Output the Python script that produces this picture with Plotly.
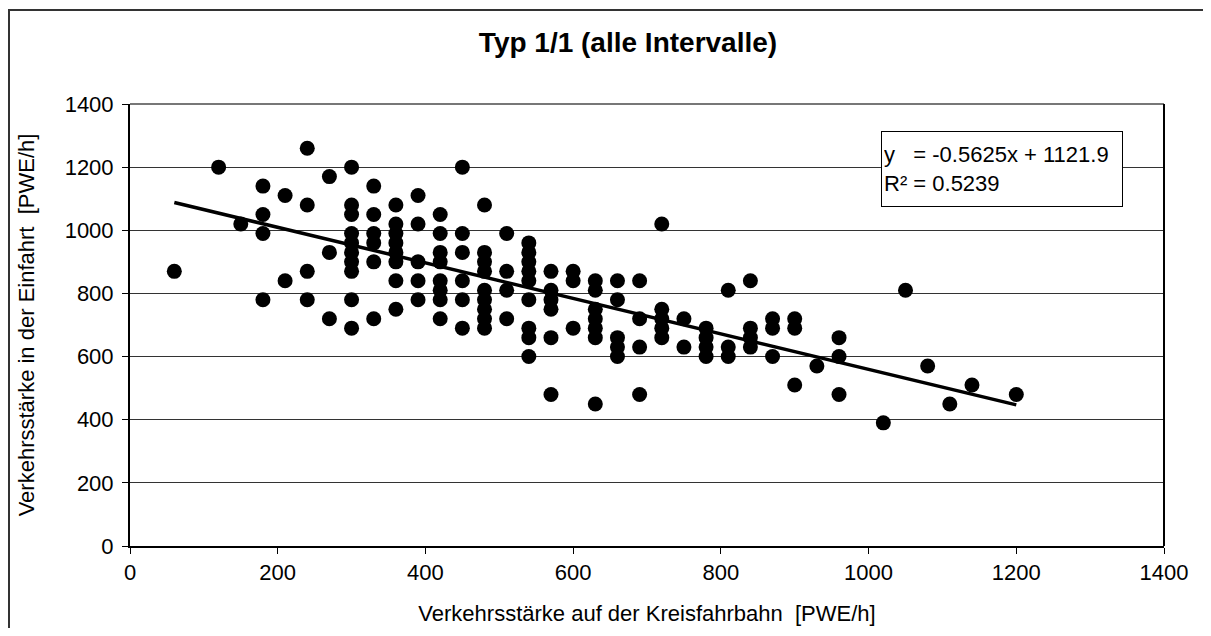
import plotly.graph_objects as go
import numpy as np

# Verkehrsstärke auf der Kreisfahrbahn [PWE/h]
x_kreis = [60, 120, 150,
           180, 180, 180, 180,
           210, 210,
           240, 240, 240, 240,
           270, 270, 270,
           300, 300, 300, 300, 300, 300, 300, 300, 300, 300,
           330, 330, 330, 330, 330, 330,
           360, 360, 360, 360, 360, 360, 360, 360,
           390, 390, 390, 390, 390,
           420, 420, 420, 420, 420, 420, 420, 420,
           450, 450, 450, 450, 450, 450,
           480, 480, 480, 480, 480, 480, 480, 480, 480,
           510, 510, 510, 510,
           540, 540, 540, 540, 540, 540, 540, 540, 540,
           570, 570, 570, 570, 570, 570,
           600, 600, 600,
           630, 630, 630, 630, 630, 630, 630,
           660, 660, 660, 660, 660,
           690, 690, 690, 690,
           720, 720, 720, 720, 720,
           750, 750,
           780, 780, 780, 780,
           810, 810, 810,
           840, 840, 840, 840,
           870, 870, 870,
           900, 900, 900,
           930,
           960, 960, 960,
           1020, 1050, 1080, 1110, 1140, 1200]

# Verkehrsstärke in der Einfahrt [PWE/h]
y_einfahrt = [870, 1200, 1020,
              1140, 1050, 990, 780,
              1110, 840,
              1260, 1080, 870, 780,
              1170, 930, 720,
              1200, 1080, 1050, 990, 960, 930, 900, 870, 780, 690,
              1140, 1050, 990, 960, 900, 720,
              1080, 1020, 990, 960, 930, 900, 840, 750,
              1110, 1020, 900, 840, 780,
              1050, 990, 930, 900, 840, 810, 780, 720,
              1200, 990, 930, 840, 780, 690,
              1080, 930, 900, 870, 810, 780, 750, 720, 690,
              990, 870, 810, 720,
              960, 930, 900, 870, 840, 780, 690, 660, 600,
              870, 810, 780, 750, 660, 480,
              870, 840, 690,
              840, 810, 750, 720, 690, 660, 450,
              840, 780, 660, 630, 600,
              840, 720, 630, 480,
              1020, 750, 720, 690, 660,
              720, 630,
              690, 660, 630, 600,
              810, 630, 600,
              840, 690, 660, 630,
              720, 690, 600,
              720, 690, 510,
              570,
              660, 600, 480,
              390, 810, 570, 450, 510, 480]

# lineare Trendlinie (Excel)
slope = -0.5625
intercept = 1121.9
r2 = 0.5239

x_trend = np.array([min(x_kreis), max(x_kreis)])
y_trend = slope * x_trend + intercept

font = "Liberation Sans, Arial, sans-serif"

# Seite hat 8px Rand -> Figur etwas kleiner
W, H = 1195, 620
L, T = 122, 96
PW, PH = 1034, 442

fig = go.Figure()
fig.add_trace(go.Scatter(x=x_kreis, y=y_einfahrt, mode="markers",
                         marker=dict(size=15, color="black"), showlegend=False))
fig.add_trace(go.Scatter(x=x_trend, y=y_trend, mode="lines",
                         line=dict(color="black", width=3.5), showlegend=False))

fig.update_layout(
    width=W, height=H,
    margin=dict(l=L, r=W - L - PW, t=T, b=H - T - PH),
    paper_bgcolor="white", plot_bgcolor="white",
    font=dict(family=font, color="black", size=22),
    title=dict(text="<b>Typ 1/1 (alle Intervalle)</b>", x=620 / W, xref="container",
               y=1 - 34 / H, yref="container", xanchor="center", yanchor="middle",
               font=dict(size=28)),
    xaxis=dict(range=[0, 1400], dtick=200, showgrid=False, zeroline=False,
               showline=True, linecolor="black", linewidth=2, mirror=False,
               ticks="outside", ticklen=6, tickcolor="black", automargin=False,
               tickfont=dict(size=22),
               title=dict(text="Verkehrsstärke auf der Kreisfahrbahn  [PWE/h]",
                          font=dict(size=22), standoff=21)),
    yaxis=dict(range=[0, 1400], dtick=200, showgrid=True, gridcolor="#333333", gridwidth=1,
               zeroline=False, showline=True, linecolor="black", linewidth=2,
               ticks="outside", ticklen=6, tickcolor="black", ticklabelstandoff=4,
               tickfont=dict(size=22), automargin=False,
               title=dict(text="Verkehrsstärke in der Einfahrt  [PWE/h]",
                          font=dict(size=22), standoff=24)),
    shapes=[
        # Rahmen Diagrammfläche (oben grau, rechts schwarz)
        dict(type="line", xref="paper", yref="paper", x0=0, x1=1, y0=1, y1=1,
             line=dict(color="#777777", width=2)),
        dict(type="line", xref="paper", yref="paper", x0=1, x1=1, y0=0, y1=1,
             line=dict(color="black", width=2)),
        # äußerer Rahmen
        dict(type="rect", xref="paper", yref="paper", x0=(1 - L) / PW, x1=1.2,
             y0=-0.3, y1=(PH + T - 2) / PH, line=dict(color="#333333", width=2)),
    ],
    annotations=[
        dict(xref="x", yref="y", x=1017, y=1314, xanchor="left", yanchor="top",
             text=f"y   = {slope}x + {intercept}<br>R² = {r2}",
             showarrow=False, align="left", width=236, height=70, valign="middle",
             bordercolor="black", borderwidth=1, borderpad=2, bgcolor="white",
             font=dict(size=22)),
    ],
)

fig.write_html("out.html")
